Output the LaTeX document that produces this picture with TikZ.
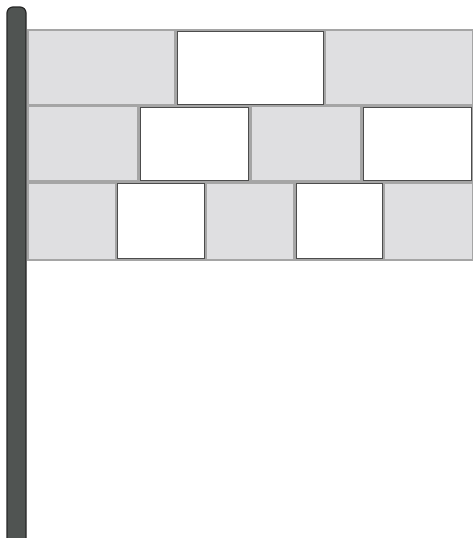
\documentclass[tikz,border=0pt]{standalone}
\usetikzlibrary{calc}
\definecolor{cPole} {RGB}{80,84,82}
\definecolor{cGrout}{RGB}{165,165,165}
\definecolor{cBrick}{RGB}{223,223,225}

\begin{document}
\begin{tikzpicture}[x=1pt,y=-1pt,
  brick/.style={fill=cBrick},
  gapbox/.style={fill=white,draw=black!70,line width=0.6pt},
  pole/.style={fill=cPole,draw=black!85,line width=1.2pt,rounded corners=6pt},
]
\useasboundingbox (0,0) rectangle (473,538);
% flag cloth with grout
\fill[cGrout] (27,29) rectangle (473,261);
\foreach \n/\ya/\yb in {3/31/104, 4/107/180, 5/183.5/258.5} {
  \pgfmathsetmacro\w{446/\n}
  \foreach \i in {1,...,\n} {
    \pgfmathsetmacro\xa{27+(\i-1)*\w+1.5}
    \pgfmathsetmacro\xb{min(27+\i*\w-1.5,473)}
    \ifodd\i
      \fill[brick] (\xa,\ya) rectangle (\xb,\yb);
    \else
      \draw[gapbox] (\xa,\ya) rectangle (\xb,\yb);
    \fi
  }
}
% pole
\draw[pole] (7,540) -- (7,7) -- (26,7) -- (26,540);
\end{tikzpicture}
\end{document}
